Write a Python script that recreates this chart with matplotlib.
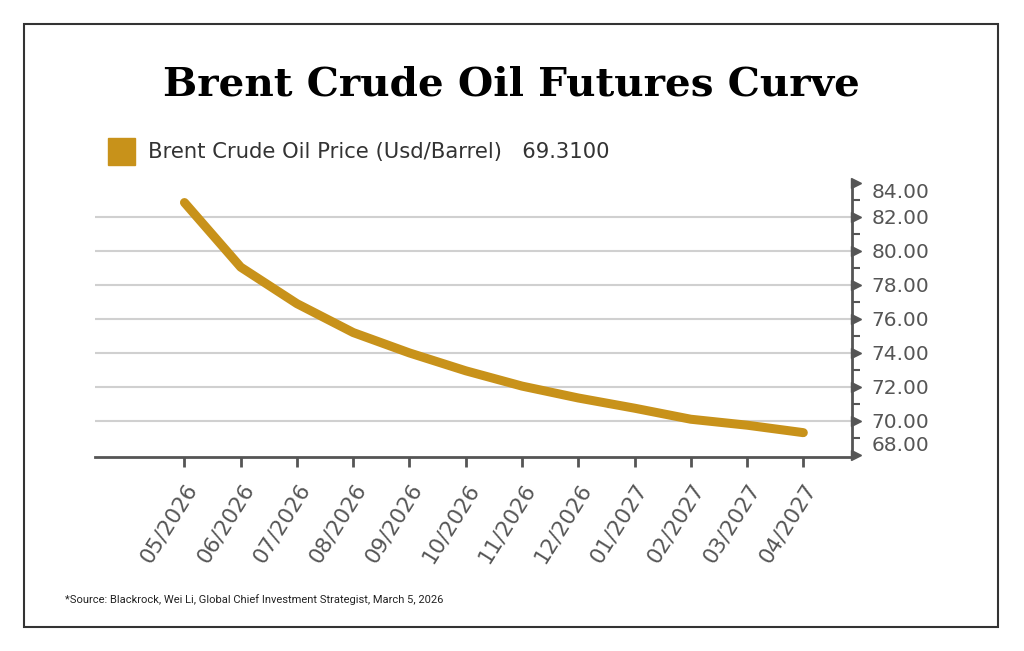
import matplotlib
matplotlib.use('Agg')
import matplotlib.pyplot as plt
from matplotlib.patches import Rectangle

# 数据
months = ['05/2026', '06/2026', '07/2026', '08/2026', '09/2026', '10/2026',
          '11/2026', '12/2026', '01/2027', '02/2027', '03/2027', '04/2027']
prices = [82.85, 79.05, 76.9, 75.2, 74.0, 72.95, 72.05, 71.35, 70.75, 70.1, 69.75, 69.31]
y_ticks = [68, 70, 72, 74, 76, 78, 80, 82, 84]
last_price = '69.3100'

gold = '#C8921A'
axis_gray = '#555555'
label_gray = '#555555'

fig = plt.figure(figsize=(10.24, 6.51), dpi=100)

# 外框
fig.patches.append(Rectangle((24 / 1024, 1 - 627 / 651), 974 / 1024, 603 / 651,
                             transform=fig.transFigure, fill=False,
                             edgecolor='#333333', linewidth=1.5))

# 标题
title = fig.text(511 / 1024, 1 - 85 / 651, 'Brent Crude Oil Futures Curve',
                 ha='center', va='center', fontsize=34, fontweight='heavy',
                 family=['DejaVu Serif Condensed', 'DejaVu Serif'], color='black')
# 按参考图宽度调整字号
renderer = fig.canvas.get_renderer()
w = title.get_window_extent(renderer).width
title.set_fontsize(34 * 697 / w)

# 图例
fig.patches.append(Rectangle((108 / 1024, 1 - 165 / 651), 27 / 1024, 27 / 651,
                             transform=fig.transFigure, color=gold))
fig.text(148 / 1024, 1 - 152 / 651,
         'Brent Crude Oil Price (Usd/Barrel)   ' + last_price,
         ha='left', va='center', fontsize=15.2, family='DejaVu Sans', color='#333333')

ax = fig.add_axes([95 / 1024, 1 - 457.3 / 651, 756.7 / 1024, 274.3 / 651])
x = list(range(len(months)))
ax.plot(x, prices, color=gold, linewidth=6.5, solid_capstyle='round',
        solid_joinstyle='round', zorder=3)

ax.set_xlim(-1.59, 11.86)
ax.set_ylim(67.86, 84)

# 网格线
for v in y_ticks[1:-1]:
    ax.axhline(v, color='#d0d0d0', linewidth=1.5, zorder=1)

for s in ['left', 'top']:
    ax.spines[s].set_visible(False)
for s in ['right', 'bottom']:
    ax.spines[s].set_color(axis_gray)
    ax.spines[s].set_linewidth(2)

ax.set_xticks(x)
ax.set_xticklabels(months, rotation=58, ha='right', va='top',
                   rotation_mode='anchor', fontsize=15.5, color=label_gray,
                   family='DejaVu Sans')
ax.tick_params(axis='x', length=7, width=2, color=axis_gray, pad=9)

ax.yaxis.tick_right()
ax.set_yticks(y_ticks)
ax.set_yticklabels(['%.2f' % v for v in y_ticks], fontsize=14.5,
                   color=label_gray, family='DejaVu Sans')
ax.set_yticks(range(69, 84, 2), minor=True)
ax.tick_params(axis='y', which='major', length=0, pad=14)
ax.tick_params(axis='y', which='minor', length=6, width=1.5, color=axis_gray)
labels = ax.get_yticklabels()
labels[0].set_va('bottom')
labels[-1].set_va('top')

# 主刻度三角形
ax.plot([1.006] * len(y_ticks), y_ticks, linestyle='none', marker='>',
        markersize=7, color=axis_gray, transform=ax.get_yaxis_transform(),
        clip_on=False)

# 来源
fig.text(65 / 1024, 1 - 600 / 651,
         '*Source: Blackrock, Wei Li, Global Chief Investment Strategist, March 5, 2026',
         ha='left', va='center', fontsize=8, family='Roboto', color='#222222')

plt.savefig('out.png', dpi=100)
